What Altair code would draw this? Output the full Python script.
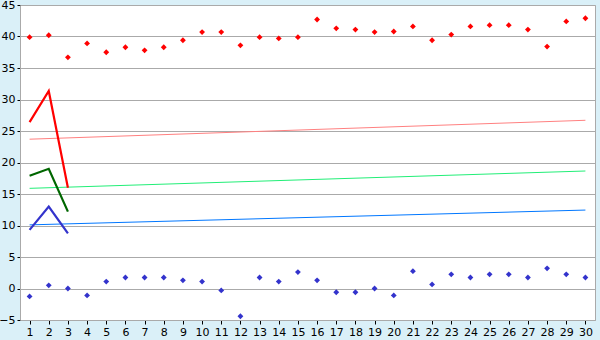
import altair as alt
import pandas as pd

cats = list(range(1, 31))
red_pts = [39.9, 40.2, 36.7, 38.9, 37.5, 38.3, 37.8, 38.3, 39.4, 40.7,
           40.7, 38.6, 39.9, 39.7, 39.9, 42.7, 41.3, 41.1, 40.7, 40.8,
           41.6, 39.4, 40.3, 41.6, 41.8, 41.8, 41.1, 38.4, 42.4, 42.9]
blue_pts = [-1.25, 0.5, 0.0, -1.1, 1.1, 1.75, 1.75, 1.75, 1.3, 1.1,
            -0.3, -4.4, 1.75, 1.1, 2.6, 1.3, -0.6, -0.6, 0.0, -1.1,
            2.75, 0.65, 2.25, 1.75, 2.25, 2.25, 1.75, 3.2, 2.25, 1.75]
line_x = [1, 2, 3]
red_line = [26.4, 31.35, 16.0]
green_line = [17.9, 19.0, 12.2]
blue_line = [9.3, 13.0, 8.75]
trend_x = [1, 30]
pink_trend = [23.7, 26.7]
lgreen_trend = [15.9, 18.65]
lblue_trend = [10.1, 12.45]

pts = pd.DataFrame({"x": cats * 2, "y": red_pts + blue_pts,
                    "s": ["rp"] * 30 + ["bp"] * 30})
lines = pd.DataFrame({"x": line_x * 3, "y": red_line + green_line + blue_line,
                      "s": ["r"] * 3 + ["g"] * 3 + ["b"] * 3})
trends = pd.DataFrame({"x": trend_x * 3, "y": pink_trend + lgreen_trend + lblue_trend,
                       "s": ["pt"] * 2 + ["gt"] * 2 + ["bt"] * 2})

dom = ["rp", "bp", "r", "g", "b", "pt", "gt", "bt"]
rng = ["#FF0000", "#3333CC", "#FF0000", "#006600", "#3333CC", "#FF8080", "#22EE77", "#0077FF"]
color = alt.Color("s:N", scale=alt.Scale(domain=dom, range=rng), legend=None)

x = alt.X("x:O", scale=alt.Scale(domain=cats, paddingInner=0, paddingOuter=0),
          axis=alt.Axis(title=None, labelAngle=0, tickSize=4, tickColor="black",
                        domainColor="#AAAAAA", grid=False, labelPadding=2,
                        labelFontSize=11, labelColor="black", labelFont="DejaVu Sans"))
y = alt.Y("y:Q", scale=alt.Scale(domain=[-5, 45], nice=False, zero=False),
          axis=alt.Axis(title=None, values=list(range(-5, 50, 5)), grid=True,
                        gridColor="#AAAAAA", tickSize=3, tickColor="black",
                        domainColor="#AAAAAA", labelPadding=2, labelFontSize=11,
                        labelColor="black", labelFont="DejaVu Sans"))

trend_layer = alt.Chart(trends).mark_line(strokeWidth=1).encode(x=x, y=y, color=color, detail="s:N")
line_layer = alt.Chart(lines).mark_line(strokeWidth=2.2).encode(x=x, y=y, color=color, detail="s:N")
pt_layer = alt.Chart(pts).mark_point(shape="diamond", filled=True, size=34, opacity=1).encode(x=x, y=y, color=color)

chart = alt.layer(trend_layer, line_layer, pt_layer).properties(
    width=575, height=315,
    padding={"left": 20, "top": 5, "right": 5, "bottom": 20},
    autosize="none",
    background="#DAF0F8",
).configure_view(fill="white", stroke="#AAAAAA")

chart.save("out.html", embed_options={"renderer": "svg", "actions": False})
